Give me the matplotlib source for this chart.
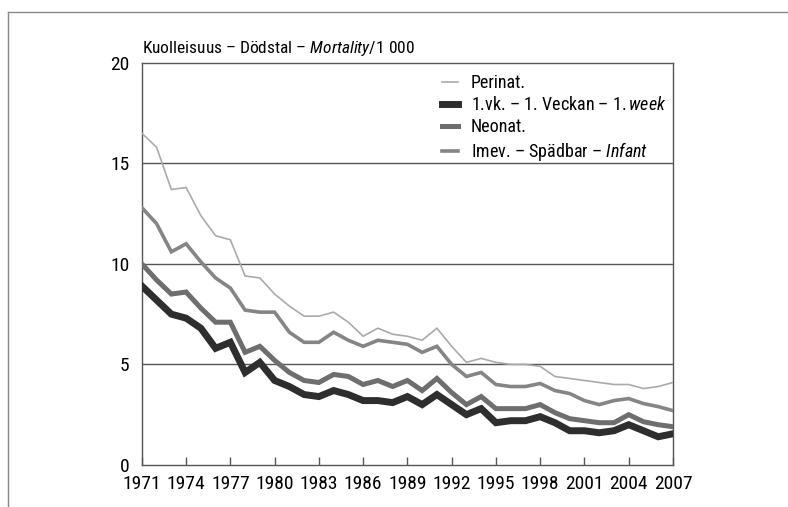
import matplotlib
matplotlib.use("Agg")
import matplotlib.pyplot as plt
from matplotlib import font_manager as fm
from matplotlib.lines import Line2D

# ---- data (per 1 000) -------------------------------------------------------
years = list(range(1971, 2008))
perinat = [16.5, 15.8, 13.7, 13.8, 12.4, 11.4, 11.2, 9.4, 9.3, 8.5,
           7.9, 7.4, 7.4, 7.6, 7.1, 6.4, 6.8, 6.5, 6.4, 6.2,
           6.8, 5.9, 5.1, 5.3, 5.1, 5.0, 5.0, 4.9, 4.4, 4.3,
           4.2, 4.1, 4.0, 4.0, 3.8, 3.9, 4.1]
week1 = [8.9, 8.2, 7.5, 7.3, 6.8, 5.8, 6.1, 4.6, 5.1, 4.2,
         3.9, 3.5, 3.4, 3.7, 3.5, 3.2, 3.2, 3.1, 3.4, 3.0,
         3.5, 3.0, 2.5, 2.8, 2.1, 2.2, 2.2, 2.4, 2.1, 1.7,
         1.7, 1.6, 1.7, 2.0, 1.7, 1.4, 1.55]
neonat = [10.0, 9.2, 8.5, 8.6, 7.8, 7.1, 7.1, 5.6, 5.9, 5.2,
          4.6, 4.2, 4.1, 4.5, 4.4, 4.0, 4.2, 3.9, 4.2, 3.7,
          4.3, 3.6, 3.0, 3.4, 2.8, 2.8, 2.8, 3.0, 2.6, 2.3,
          2.2, 2.1, 2.1, 2.5, 2.15, 2.0, 1.9]
infant = [12.8, 12.0, 10.6, 11.0, 10.1, 9.3, 8.8, 7.7, 7.6, 7.6,
          6.6, 6.1, 6.1, 6.6, 6.2, 5.9, 6.2, 6.1, 6.0, 5.6,
          5.9, 5.0, 4.4, 4.6, 4.0, 3.9, 3.9, 4.05, 3.7, 3.55,
          3.2, 3.0, 3.2, 3.3, 3.05, 2.9, 2.7]
xticks = list(range(1971, 2008, 3))
yticks = [0, 5, 10, 15, 20]

# reference uses a condensed grotesque; take the first one that is installed
installed = {f.name for f in fm.fontManager.ttflist}
cands = ["Roboto Condensed", "Archivo Narrow", "PT Sans Narrow",
         "Liberation Sans Narrow", "Open Sans Condensed", "Liberation Sans"]
FAM = next(c for c in cands if c in installed)
plt.rcParams["font.family"] = [FAM, "DejaVu Sans"]
plt.rcParams["mathtext.fontset"] = "custom"
plt.rcParams["mathtext.rm"] = FAM
plt.rcParams["mathtext.it"] = FAM + ":italic"

fig = plt.figure(figsize=(7.88, 5.07), dpi=100)
ax = fig.add_axes([0.180, 0.083, 0.674, 0.793])

# outer frame (top and left rule)
fig.add_artist(Line2D([0.010, 1.0], [0.976, 0.976], color="#888888", lw=1))
fig.add_artist(Line2D([0.010, 0.010], [0.0, 0.976], color="#888888", lw=1))

series = [
    (perinat, "#aaaaaa", 1.2, "Perinat."),
    (week1, "#2e2e2e", 5.0, r"1.vk. – 1. Veckan – $\mathit{1.week}$"),
    (neonat, "#6e6e6e", 3.6, "Neonat."),
    (infant, "#858585", 2.6, r"Imev. – Spädbar – $\mathit{Infant}$"),
]
for vals, col, lw, lab in series:
    ax.plot(years, vals, color=col, lw=lw, label=lab, solid_joinstyle="miter", zorder=3)

for y in [5, 10, 15]:
    ax.axhline(y, color="#555555", lw=1, zorder=1)

ax.set_xlim(1971, 2007)
ax.set_ylim(0, 20)
ax.set_xticks(xticks)
ax.set_yticks(yticks)
ax.tick_params(axis="x", direction="in", length=6, width=1, color="#555555",
               labelsize=14, pad=7)
ax.tick_params(axis="y", length=0, labelsize=14, pad=9)
for lbl in ax.get_yticklabels():
    lbl.set_va("center_baseline")
for s in ax.spines.values():
    s.set_color("#555555")
    s.set_linewidth(1)

ax.text(0.0, 1.012, r"Kuolleisuus – Dödstal – $\mathit{Mortality/1\ 000}$",
        transform=ax.transAxes, fontsize=12.5, ha="left", va="bottom")

leg = ax.legend(loc="upper left", bbox_to_anchor=(0.552, 0.99), frameon=False,
                fontsize=13, handlelength=0.85, handletextpad=0.75,
                labelspacing=0.22, borderaxespad=0)

fig.savefig("out.png", dpi=100)
